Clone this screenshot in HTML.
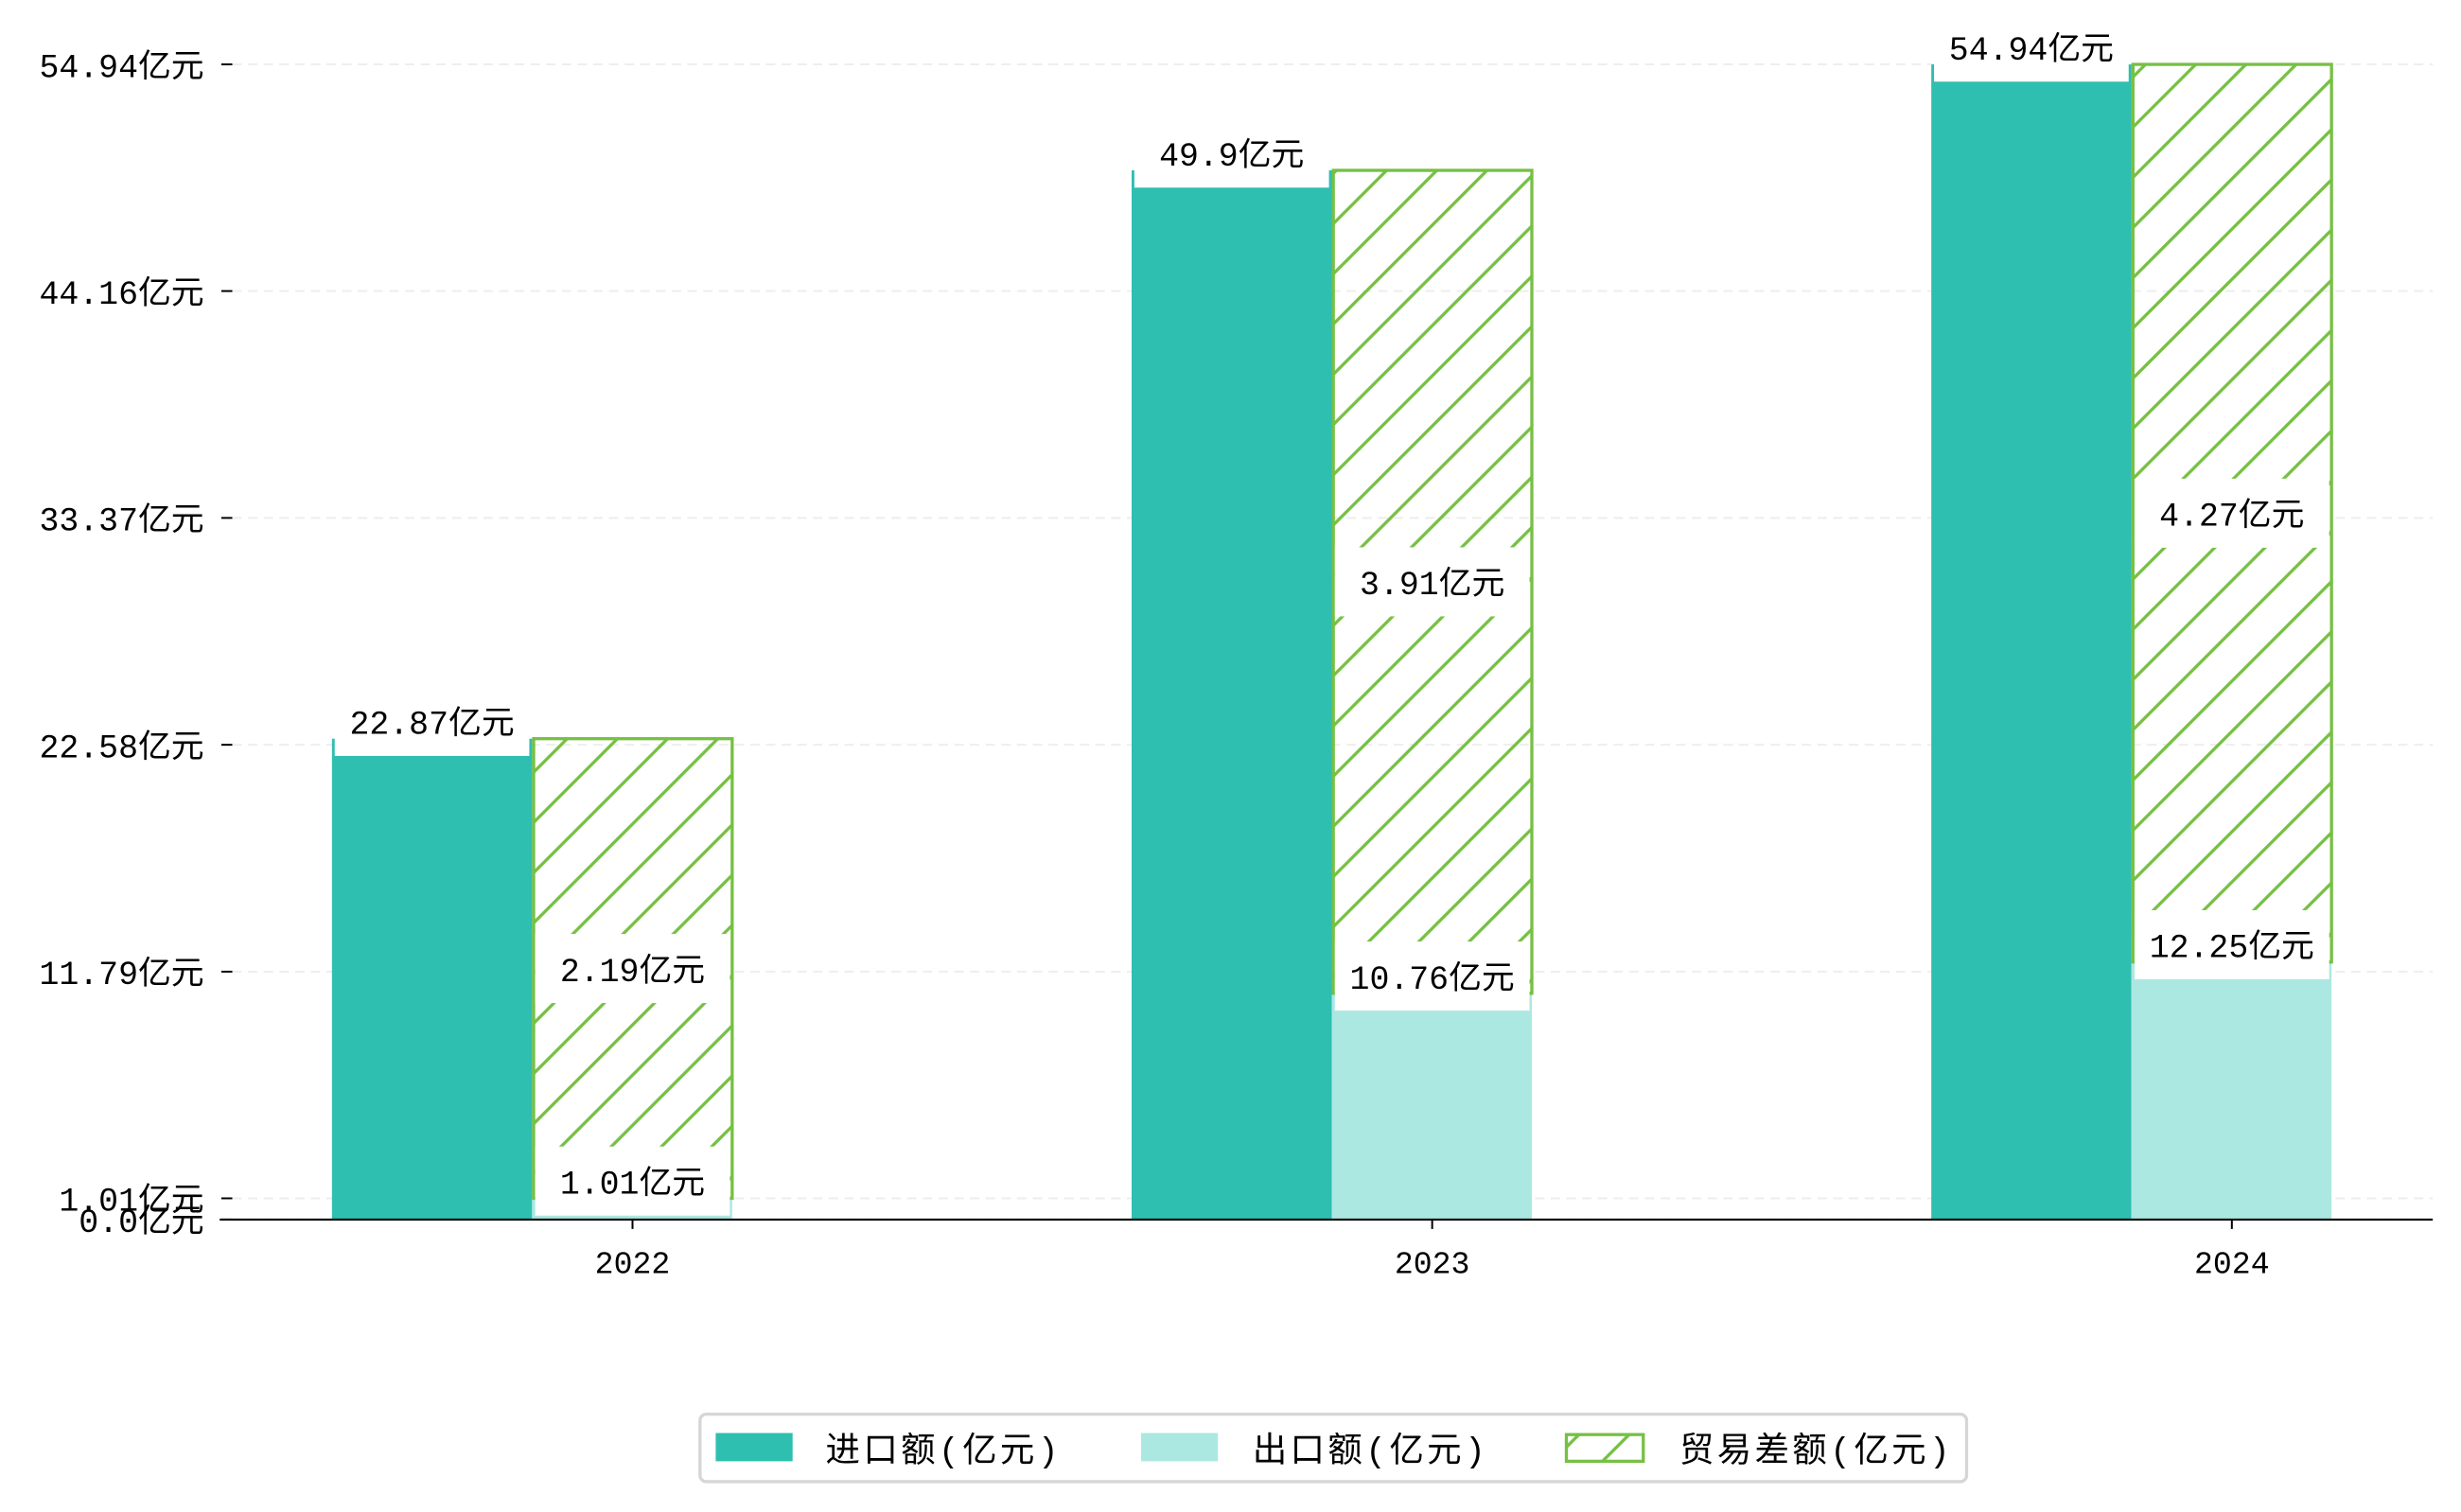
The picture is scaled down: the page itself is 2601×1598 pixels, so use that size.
<!DOCTYPE html>
<html><head><meta charset="utf-8"><style>
html,body{margin:0;padding:0;background:#fff;}
svg{display:block;font-family:"Liberation Mono","Noto Sans CJK SC",monospace;}
</style></head><body>
<svg id="chart" width="2601" height="1598" viewBox="0 0 1568 963.3" xmlns="http://www.w3.org/2000/svg">
<defs>
<pattern id="hatch" patternUnits="userSpaceOnUse" width="32" height="32">
<path d="M-8,8 L8,-8 M0,32 L32,0 M24,40 L40,24" stroke="#76c043" stroke-width="2"/>
</pattern>
</defs>
<g id="grid"></g>
<g id="bars"></g>
<g id="labels"></g>
<g id="axes"></g>
<g>
<rect x="446" y="901" width="807" height="43" rx="4" fill="#fff" stroke="#d6d6d6" stroke-width="2"/>
<rect x="456" y="913" width="49" height="18" fill="#2ebfb1"/>
<text x="526" y="931" font-size="22" letter-spacing="2">进口额(亿元)</text>
<rect x="727" y="913" width="49" height="18" fill="#ace8e2"/>
<text x="798" y="931" font-size="22" letter-spacing="2">出口额(亿元)</text>
<rect x="998" y="914" width="49" height="17" fill="url(#hatch)" stroke="#76c043" stroke-width="2"/>
<text x="1070" y="931" font-size="22" letter-spacing="2">贸易差额(亿元)</text>
</g>
</svg>
<script>
const categories = ["2022","2023","2024"];
const importVals = [22.87, 49.9, 54.94];
const exportVals = [1.01, 10.76, 12.25];
const balanceVals = [2.19, 3.91, 4.27];
const tickVals = [0, 1.01, 11.79, 22.58, 33.37, 44.16, 54.94];
const tickLabels = ["0.0亿元","1.01亿元","11.79亿元","22.58亿元","33.37亿元","44.16亿元","54.94亿元"];

const NS = "http://www.w3.org/2000/svg";
const y0 = 777, yTop = 41, yMax = 54.94;
const yS = v => y0 - v / yMax * (y0 - yTop);
const xC = i => 403 + i * 509.5;
const bw = 127.5;
function mk(tag, attrs, parent) {
  const e = document.createElementNS(NS, tag);
  for (const k in attrs) e.setAttribute(k, attrs[k]);
  parent.appendChild(e);
  return e;
}
const grid = document.getElementById('grid');
const bars = document.getElementById('bars');
const labels = document.getElementById('labels');
const axes = document.getElementById('axes');

tickVals.forEach((v, i) => {
  const y = yS(v);
  const g = mk('line', {x1:148, x2:1550, y1:y, y2:y, stroke:'#eeeeee', 'stroke-width':1.2, 'stroke-dasharray':'6,4'}, grid);
  
  
  const t = mk('line', {x1:141, x2:148, y1:y, y2:y, stroke:'#000', 'stroke-width':1.2}, axes);
  
  
  const tx = mk('text', {x:130, y:y + 8, 'font-size':21, 'text-anchor':'end'}, axes);
  tx.textContent = tickLabels[i];
  
  
});
const ax = mk('line', {x1:140, x2:1550, y1:y0, y2:y0, stroke:'#000', 'stroke-width':1.3}, axes);



function label(cx, cy, txt) {
  const r = mk('rect', {x:cx - 62, y:cy - 22, width:124, height:44, fill:'#fff'}, labels);
  
  
  const t = mk('text', {x:cx, y:cy + 8, 'font-size':21, 'text-anchor':'middle'}, labels);
  t.textContent = txt;
  
  
}

categories.forEach((c, i) => {
  const cx = xC(i);
  const yi = yS(importVals[i]), ye = yS(exportVals[i]);
  const b1 = mk('rect', {x:cx - 64 - bw, y:yi, width:bw, height:y0 - yi, fill:'#2ebfb1'}, bars);
  
  
  const b2 = mk('rect', {x:cx - 64, y:ye, width:bw, height:y0 - ye, fill:'#ace8e2'}, bars);
  
  
  const b3 = mk('rect', {x:cx - 63, y:yi, width:bw - 1, height:ye - yi, fill:'url(#hatch)', stroke:'#76c043', 'stroke-width':2}, bars);
  
  
  const tk = mk('line', {x1:cx, x2:cx, y1:y0, y2:y0 + 6, stroke:'#000', 'stroke-width':1.2}, axes);
  
  
  const tl = mk('text', {x:cx, y:y0 + 34, 'font-size':20, 'text-anchor':'middle'}, axes);
  tl.textContent = c;
  
  

  label(cx - 64 - bw/2, yi - 11, importVals[i] + '亿元');
  label(cx, (yi + ye)/2, balanceVals[i] + '亿元');
  label(cx, ye - 11, exportVals[i] + '亿元');
});
</script>
</body></html>
